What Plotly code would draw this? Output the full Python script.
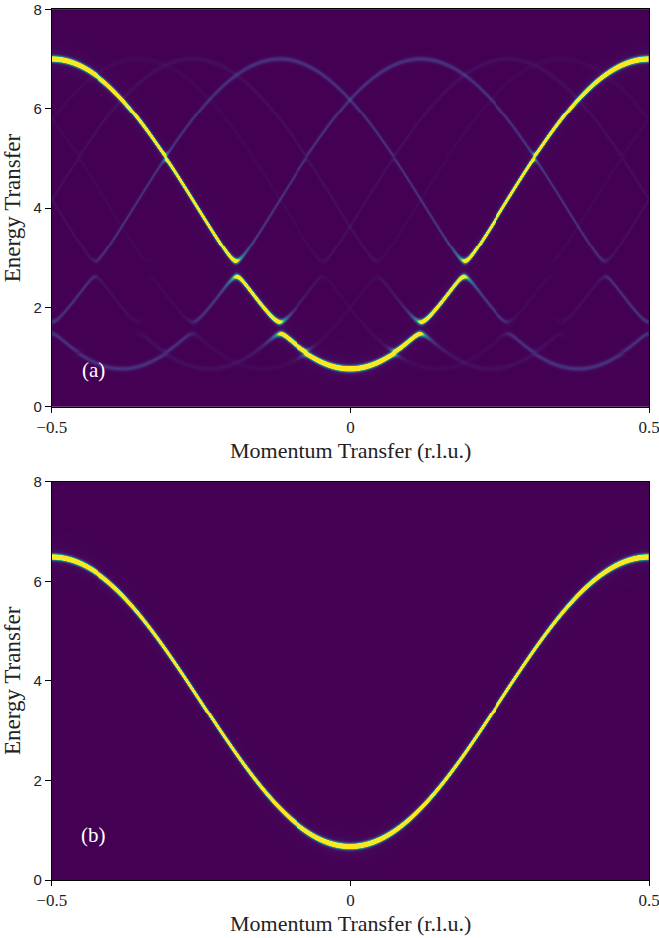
import numpy as np
import plotly.graph_objects as go

# ---- axis ticks -------------------------------------------------------------
Q_TICKS = [-0.5, 0.0, 0.5]
Q_TICK_TEXT = ["\u22120.5", "0", "0.5"]
E_TICKS = [0, 2, 4, 6, 8]

# ---- panel (a): chain with an incommensurate modulation --------------------
BAND_MIN_A = 0.77          # energy at the zone centre
BAND_MAX_A = 7.0           # energy at the zone boundary
K_MOD = 0.382              # modulation wave vector (r.l.u.)
HARMONIC = [1, 2, 3, 4]    # order m of the modulation harmonic, G = m * K_MOD
COUPLING = [0.334, 0.16, 0.035, 0.0]
GHOST_WEIGHT = [0.05, 0.012, 0.006, 0.0]
N_SATELLITE = 4            # plane waves q + m*K_MOD kept, |m| <= N_SATELLITE

# ---- panel (b): uniform chain ----------------------------------------------
BAND_MIN_B = 0.67
BAND_MAX_B = 6.48

PANEL_LABELS = ["(a)", "(b)"]
LINE_SIGMA = 0.032         # energy resolution, Gaussian sigma
LINE_GAMMA = 0.05          # half width of the Lorentzian tail
TAIL_FRACTION = 0.06
NQ, NE = 600, 400

q = -0.5 + (np.arange(NQ) + 0.5) / NQ
e = 8.0 * (np.arange(NE) + 0.5) / NE


def band(k, lo, hi):
    return lo + (hi - lo) * 0.5 * (1.0 - np.cos(2 * np.pi * k))


def lineshape(de):
    gauss = np.exp(-de ** 2 / (2 * LINE_SIGMA ** 2))
    lorentz = LINE_GAMMA ** 2 / (de ** 2 + LINE_GAMMA ** 2)
    return (1 - TAIL_FRACTION) * gauss + TAIL_FRACTION * lorentz


def modulated_spectrum():
    m = np.arange(-N_SATELLITE, N_SATELLITE + 1)
    k = q[:, None] + m[None, :] * K_MOD                        # (NQ, M)
    diag = band(k, BAND_MIN_A, BAND_MAX_A)
    w = np.cos(np.pi * k) ** 2
    order = np.abs(m[:, None] - m[None, :])
    vmat = np.zeros(order.shape)
    wvec = np.zeros(m.size)
    wvec[m == 0] = 1.0
    for h, c, g in zip(HARMONIC, COUPLING, GHOST_WEIGHT):
        vmat[order == h] = c
        wvec[np.abs(m) == h] = g
    ham = vmat[None, :, :] * w[:, :, None] * w[:, None, :]
    idx = np.arange(m.size)
    ham[:, idx, idx] = diag
    vals, vecs = np.linalg.eigh(ham)
    inten = np.einsum("n,qnj->qj", wvec, np.abs(vecs) ** 2)
    prof = lineshape(e[:, None, None] - vals[None, :, :])
    return np.einsum("eqj,qj->eq", prof, inten)


def uniform_spectrum():
    en = band(q, BAND_MIN_B, BAND_MAX_B)
    return lineshape(e[:, None] - en[None, :])


spec_a = modulated_spectrum().astype(np.float32)
spec_b = uniform_spectrum().astype(np.float32)

ZMAX = 0.35
fig = go.Figure()
for i, z in enumerate([spec_a, spec_b]):
    fig.add_trace(go.Heatmap(
        x=q, y=e, z=z, colorscale="Viridis", zmin=0, zmax=ZMAX,
        showscale=False, hoverinfo="skip",
        xaxis="x" if i == 0 else "x2", yaxis="y" if i == 0 else "y2",
    ))

SERIF = "Liberation Serif"
SANS = "Liberation Sans"
INK = "#222"


def xaxis(domain, anchor):
    return dict(
        domain=domain, anchor=anchor, range=[-0.5, 0.5], automargin=False,
        tickmode="array", tickvals=Q_TICKS, ticktext=Q_TICK_TEXT,
        ticks="outside", ticklen=5, tickcolor="black", tickwidth=1,
        ticklabelstandoff=0, ticklabeloverflow="allow",
        tickfont=dict(family=SERIF, size=17, color=INK),
        showline=True, linecolor="black", linewidth=1, mirror=True,
        showgrid=False, zeroline=False,
    )


def yaxis(domain, anchor):
    return dict(
        domain=domain, anchor=anchor, range=[0, 8], automargin=False,
        tickmode="array", tickvals=E_TICKS,
        ticks="outside", ticklen=6, tickcolor="black", tickwidth=1,
        tickfont=dict(family=SANS, size=15, color=INK),
        showline=True, linecolor="black", linewidth=1, mirror=True,
        showgrid=False, zeroline=False,
        title=dict(text="Energy Transfer", standoff=6,
                   font=dict(family=SERIF, size=23, color=INK)),
    )


X_DOMAIN = [0.0785, 0.985]
fig.update_layout(
    width=659, height=938,
    margin=dict(l=0, r=0, t=0, b=0),
    paper_bgcolor="white", plot_bgcolor="#440154",
    xaxis=xaxis(X_DOMAIN, "y"),
    yaxis=yaxis([0.5664, 0.9901], "x"),
    xaxis2=xaxis(X_DOMAIN, "y2"),
    yaxis2=yaxis([0.0618, 0.4865], "x2"),
    showlegend=False,
    annotations=[
        dict(text=PANEL_LABELS[0], x=-0.43, y=0.74, xref="x", yref="y",
             showarrow=False, font=dict(family=SERIF, size=21, color="white")),
        dict(text=PANEL_LABELS[1], x=-0.43, y=0.9, xref="x2", yref="y2",
             showarrow=False, font=dict(family=SERIF, size=21, color="white")),
        # x-axis titles
        dict(text="Momentum Transfer (r.l.u.)", x=sum(X_DOMAIN) / 2, y=1 - 450 / 938,
             xref="paper", yref="paper", yanchor="middle", showarrow=False,
             font=dict(family=SERIF, size=22, color=INK)),
        dict(text="Momentum Transfer (r.l.u.)", x=sum(X_DOMAIN) / 2, y=1 - 923 / 938,
             xref="paper", yref="paper", yanchor="middle", showarrow=False,
             font=dict(family=SERIF, size=22, color=INK)),
    ],
)

fig.write_html("out.html")
